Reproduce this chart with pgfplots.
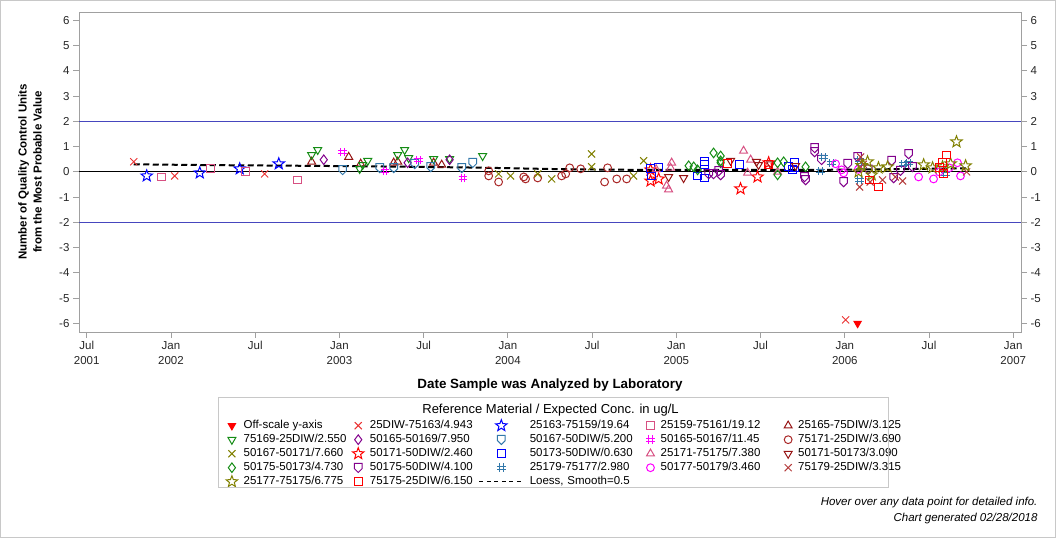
\documentclass[border=0pt]{standalone}
\usepackage{fontspec}
\setmainfont{Liberation Sans}
\usepackage{pgfplots}
\pgfplotsset{compat=1.18}

% colours
\definecolor{axgray}{RGB}{160,160,160}
\definecolor{framegray}{RGB}{200,200,200}
\definecolor{refblue}{RGB}{70,70,190}
\definecolor{cRed}{RGB}{255,0,0}
\definecolor{cRedX}{RGB}{235,50,50}
\definecolor{cBlue}{RGB}{0,0,255}
\definecolor{cRose}{RGB}{215,80,130}
\definecolor{cMaroon}{RGB}{150,20,20}
\definecolor{cGreen}{RGB}{20,140,20}
\definecolor{cPurple}{RGB}{130,0,140}
\definecolor{cSteel}{RGB}{50,120,170}
\definecolor{cMagenta}{RGB}{255,0,255}
\definecolor{cBrick}{RGB}{170,40,40}
\definecolor{cOlive}{RGB}{128,128,0}
\definecolor{cBrown}{RGB}{180,60,60}

% extra plot marks: hash, shield pointing down, outlined star
\pgfdeclareplotmark{hash}{%
  \pgfpathmoveto{\pgfqpoint{-0.4\pgfplotmarksize}{-\pgfplotmarksize}}%
  \pgfpathlineto{\pgfqpoint{-0.4\pgfplotmarksize}{\pgfplotmarksize}}%
  \pgfpathmoveto{\pgfqpoint{0.4\pgfplotmarksize}{-\pgfplotmarksize}}%
  \pgfpathlineto{\pgfqpoint{0.4\pgfplotmarksize}{\pgfplotmarksize}}%
  \pgfpathmoveto{\pgfqpoint{-\pgfplotmarksize}{-0.4\pgfplotmarksize}}%
  \pgfpathlineto{\pgfqpoint{\pgfplotmarksize}{-0.4\pgfplotmarksize}}%
  \pgfpathmoveto{\pgfqpoint{-\pgfplotmarksize}{0.4\pgfplotmarksize}}%
  \pgfpathlineto{\pgfqpoint{\pgfplotmarksize}{0.4\pgfplotmarksize}}%
  \pgfusepathqstroke}
\pgfdeclareplotmark{homedown}{%
  \pgfpathmoveto{\pgfqpoint{-0.8\pgfplotmarksize}{0.9\pgfplotmarksize}}%
  \pgfpathlineto{\pgfqpoint{0.8\pgfplotmarksize}{0.9\pgfplotmarksize}}%
  \pgfpathlineto{\pgfqpoint{0.8\pgfplotmarksize}{-0.2\pgfplotmarksize}}%
  \pgfpathlineto{\pgfqpoint{0pt}{-\pgfplotmarksize}}%
  \pgfpathlineto{\pgfqpoint{-0.8\pgfplotmarksize}{-0.2\pgfplotmarksize}}%
  \pgfpathclose\pgfusepathqstroke}
\pgfdeclareplotmark{ostar}{%
  \pgfpathmoveto{\pgfpointpolar{90}{\pgfplotmarksize}}%
  \pgfpathlineto{\pgfpointpolar{126}{0.42\pgfplotmarksize}}%
  \pgfpathlineto{\pgfpointpolar{162}{\pgfplotmarksize}}%
  \pgfpathlineto{\pgfpointpolar{198}{0.42\pgfplotmarksize}}%
  \pgfpathlineto{\pgfpointpolar{234}{\pgfplotmarksize}}%
  \pgfpathlineto{\pgfpointpolar{270}{0.42\pgfplotmarksize}}%
  \pgfpathlineto{\pgfpointpolar{306}{\pgfplotmarksize}}%
  \pgfpathlineto{\pgfpointpolar{342}{0.42\pgfplotmarksize}}%
  \pgfpathlineto{\pgfpointpolar{18}{\pgfplotmarksize}}%
  \pgfpathlineto{\pgfpointpolar{54}{0.42\pgfplotmarksize}}%
  \pgfpathclose\pgfusepathqstroke}

\pgfplotsset{
  mk/.style={only marks, line width=1pt,
    mark options={solid, line width=1pt},
    legend image code/.code={\draw[##1] plot coordinates {(0pt,0pt)};}},
  tdown/.style={mk, mark=triangle, mark size=4.6pt, mark options={solid, line width=1pt, rotate=180}},
  tup/.style={mk, mark=triangle, mark size=4.6pt},
  xm/.style={mk, mark=x, mark size=5pt},
  st/.style={mk, mark=ostar, mark size=6pt},
  sq/.style={mk, mark=square, mark size=3.9pt},
  ci/.style={mk, mark=o, mark size=3.9pt},
  di/.style={mk, mark=diamond, mark size=4.8pt},
  hd/.style={mk, mark=homedown, mark size=4.8pt},
  hs/.style={mk, mark=hash, mark size=4.2pt},
}
% widths of the third and fourth legend text columns
\tikzset{
  colC/.style={text width=110.5pt, align=left},
  colD/.style={text width=117.5pt, align=left},
}

\newcommand{\tickfont}{\fontsize{11.5}{15}\selectfont}

\begin{document}
\begin{tikzpicture}[x=1pt,y=1pt]
\useasboundingbox (0,0) rectangle (1056,538);
\draw[framegray, line width=1pt] (0.5,0.5) rectangle (1055.5,537.5);

\begin{axis}[
  at={(79pt,206pt)}, anchor=south west, scale only axis,
  width=942pt, height=320pt,
  xmin=2001.454, xmax=2007.046, ymin=-6.34, ymax=6.33,
  axis line style={draw=axgray, line width=0.8pt},
  tick style={draw=axgray, line width=0.8pt},
  tick align=outside, major tick length=6pt,
  xtick pos=bottom, ytick pos=left,
  xtick={2001.5,2002,2002.5,2003,2003.5,2004,2004.5,2005,2005.5,2006,2006.5,2007},
  xticklabels={{Jul\\2001},{Jan\\2002},{Jul},{Jan\\2003},{Jul},{Jan\\2004},{Jul},{Jan\\2005},{Jul},{Jan\\2006},{Jul},{Jan\\2007}},
  xticklabel style={align=center, font=\tickfont, text=black!85},
  ytick={-6,-5,-4,-3,-2,-1,0,1,2,3,4,5,6},
  yticklabels={-6,-5,-4,-3,-2,-1,0,1,2,3,4,5,6},
  yticklabel style={font=\tickfont, text=black!85},
  xlabel={Date Sample was Analyzed by Laboratory},
  xlabel style={at={(axis description cs:0.5,-0.1656)}, anchor=center,
    font=\bfseries\fontsize{13.4}{16}\selectfont},
  ylabel={Number of Quality Control Units\\from the Most Probable Value},
  ylabel style={at={(axis description cs:-0.052,0.5)}, anchor=center, align=center,
    font=\bfseries\fontsize{11.5}{15}\selectfont},
  legend columns=5,
  legend cell align=left,
  legend style={draw=none, fill=none, at={(axis description cs:0.5150,-0.2656)}, anchor=north,
    font=\fontsize{11.5}{13}\selectfont, row sep=1.0pt,
    nodes={inner sep=1pt, text height=8.5pt, text depth=2.5pt},
    /tikz/every even column/.append style={column sep=5pt},
    /tikz/every odd column/.append style={column sep=5pt}},
  clip=false,
]
% reference lines
\addplot[refblue, line width=0.9pt, forget plot] coordinates {(2001.454,2) (2007.046,2)};
\addplot[refblue, line width=0.9pt, forget plot] coordinates {(2001.454,-2) (2007.046,-2)};
\addplot[black, line width=1.2pt, forget plot] coordinates {(2001.454,0) (2007.046,0)};

% Off-scale y-axis
\addplot[mk, cRed, mark=triangle*, mark size=4.2pt, mark options={solid, rotate=180, fill=cRed}]
  coordinates {(2006.076,-6.0)};
\addlegendentry{Off-scale y-axis}
% 25DIW-75163/4.943
\addplot[xm, cRedX] coordinates {(2001.779,0.40) (2002.022,-0.16) (2002.556,-0.08) (2006.005,-5.86)};
\addlegendentry{25DIW-75163/4.943}
% 25163-75159/19.64
\addplot[st, cBlue] coordinates {(2001.856,-0.16) (2002.171,-0.04) (2002.408,0.12) (2002.640,0.32)};
\addlegendentry[colC]{25163-75159/19.64}
% 25159-75161/19.12
\addplot[sq, cRose] coordinates {(2001.945,-0.20) (2002.236,0.12) (2002.444,0.00) (2002.752,-0.32)};
\addlegendentry[colD]{25159-75161/19.12}
% 25165-75DIW/3.125
\addplot[tup, cMaroon] coordinates {(2002.835,0.40) (2003.055,0.59) (2003.126,0.32) (2003.322,0.36)
  (2003.346,0.40) (2003.559,0.36) (2003.607,0.28)};
\addlegendentry{25165-75DIW/3.125}
% 75169-25DIW/2.550
\addplot[tdown, cGreen] coordinates {(2002.835,0.67) (2002.871,0.87) (2003.120,0.12) (2003.138,0.28)
  (2003.168,0.44) (2003.346,0.67) (2003.387,0.87) (2003.411,0.55) (2003.559,0.51) (2003.654,0.51)
  (2003.850,0.63)};
\addlegendentry{75169-25DIW/2.550}
% 50165-50169/7.950
\addplot[di, cPurple] coordinates {(2002.907,0.48) (2003.405,0.36) (2003.654,0.48)};
\addlegendentry{50165-50169/7.950}
% 50167-50DIW/5.200
\addplot[hd, cSteel] coordinates {(2003.019,0.08) (2003.239,0.16) (2003.322,0.16) (2003.447,0.32)
  (2003.542,0.20) (2003.726,0.16) (2003.791,0.36)};
\addlegendentry[colC]{50167-50DIW/5.200}
% 50165-50167/11.45
\addplot[hs, cMagenta] coordinates {(2003.019,0.79) (2003.269,0.04) (2003.470,0.48) (2003.732,-0.24)};
\addlegendentry[colD]{50165-50167/11.45}
% 75171-25DIW/3.690
\addplot[ci, cBrick] coordinates {(2003.886,0.04) (2003.886,-0.16) (2003.945,-0.40) (2004.094,-0.20)
  (2004.105,-0.28) (2004.177,-0.24) (2004.319,-0.16) (2004.343,-0.08) (2004.367,0.16) (2004.432,0.12)
  (2004.574,-0.40) (2004.592,0.16) (2004.646,-0.28) (2004.705,-0.28)};
\addlegendentry{75171-25DIW/3.690}
% 50167-50171/7.660
\addplot[xm, cOlive] coordinates {(2003.945,-0.08) (2004.016,-0.16) (2004.177,-0.08) (2004.260,-0.28)
  (2004.497,0.71) (2004.497,0.20) (2004.746,-0.16) (2004.806,0.44)};
\addlegendentry{50167-50171/7.660}
% 50171-50DIW/2.460
\addplot[st, cRed] coordinates {(2004.847,0.08) (2004.847,-0.36) (2004.895,-0.28) (2005.381,-0.67)
  (2005.482,-0.20) (2005.548,0.36)};
\addlegendentry{50171-50DIW/2.460}
% 50173-50DIW/0.630
\addplot[sq, cBlue] coordinates {(2004.847,0.12) (2004.853,-0.16) (2004.895,0.16) (2005.126,-0.16)
  (2005.168,0.40) (2005.168,0.28) (2005.168,-0.24) (2005.376,0.28) (2005.666,0.20) (2005.702,0.36)
  (2005.702,0.16) (2005.690,0.10)};
\addlegendentry[colC]{50173-50DIW/0.630}
% 25171-75175/7.380
\addplot[tup, cRose] coordinates {(2004.966,0.16) (2004.972,0.36) (2004.942,-0.55) (2004.954,-0.70)
  (2005.399,0.83) (2005.423,-0.04) (2005.441,0.48) (2005.601,0.00) (2004.880,0.10)};
\addlegendentry[colD]{25171-75175/7.380}
% 50171-50173/3.090
\addplot[tdown, cMaroon] coordinates {(2004.954,-0.20) (2005.043,-0.24) (2005.322,0.44) (2005.476,0.40)
  (2005.488,0.28) (2005.708,0.24) (2005.560,0.30)};
\addlegendentry{50171-50173/3.090}
% 50175-50173/4.730
\addplot[di, cGreen] coordinates {(2005.073,0.24) (2005.103,0.20) (2005.126,0.08) (2005.221,0.75)
  (2005.263,0.63) (2005.263,0.44) (2005.263,0.36) (2005.601,0.36) (2005.601,-0.12) (2005.637,0.40)
  (2005.767,0.20)};
\addlegendentry{50175-50173/4.730}
% 50175-50DIW/4.100
\addplot[hd, cPurple] coordinates {(2005.192,-0.08) (2005.221,-0.08) (2005.251,0.04) (2005.263,-0.12)
  (2005.761,-0.20) (2005.767,-0.32) (2005.821,0.95) (2005.821,0.79) (2005.862,0.48) (2005.993,-0.40)
  (2006.017,0.32) (2006.076,0.59) (2006.278,0.44) (2006.290,-0.24) (2006.379,0.71) (2006.402,0.20)
  (2006.140,0.10) (2006.330,0.05)};
\addlegendentry{50175-50DIW/4.100}
% 25179-75177/2.980
\addplot[hs, cSteel] coordinates {(2005.856,0.04) (2005.874,0.59) (2005.922,0.36) (2006.088,0.48)
  (2006.088,-0.32) (2006.349,0.32) (2006.379,0.36) (2006.598,-0.08) (2006.090,0.20)};
\addlegendentry[colC]{25179-75177/2.980}
% 50177-50179/3.460
\addplot[ci, cMagenta] coordinates {(2005.945,0.32) (2005.981,0.08) (2005.993,-0.04) (2006.438,-0.20)
  (2006.527,-0.28) (2006.669,0.36) (2006.687,-0.16) (2006.080,0.10) (2006.560,0.00) (2006.620,0.16)};
\addlegendentry[colD]{50177-50179/3.460}
% 75179-25DIW/3.315
\addplot[xm, cBrown] coordinates {(2006.088,-0.60) (2006.094,0.59) (2006.224,-0.32) (2006.343,-0.36)
  (2006.723,0.00) (2006.150,-0.40) (2006.110,0.30) (2006.300,-0.20)};
\addlegendentry{75179-25DIW/3.315}
% 25177-75175/6.775
\addplot[st, cOlive] coordinates {(2006.082,0.00) (2006.135,0.40) (2006.200,0.16) (2006.254,0.20)
  (2006.468,0.28) (2006.521,0.16) (2006.628,0.32) (2006.663,1.19) (2006.717,0.24) (2006.100,0.25)
  (2006.160,-0.12) (2006.580,0.20)};
\addlegendentry{25177-75175/6.775}
% 75175-25DIW/6.150
\addplot[sq, cRed] coordinates {(2005.304,0.32) (2005.548,0.28) (2006.147,-0.32) (2006.200,-0.60)
  (2006.563,0.16) (2006.580,0.36) (2006.586,-0.08) (2006.604,0.67)};
\addlegendentry{75175-25DIW/6.150}
% loess fit
\addplot[black, line width=2pt, dash pattern=on 6pt off 3.5pt, smooth,
  legend image code/.code={\draw[black, line width=0.9pt, dash pattern=on 4pt off 3.5pt] (-22pt,0pt) -- (22pt,0pt);}]
  coordinates {(2001.779,0.30) (2002.2,0.27) (2002.8,0.24) (2003.3,0.21) (2003.8,0.17) (2004.3,0.11)
  (2004.8,0.08) (2005.3,0.08) (2005.8,0.08) (2006.2,0.10) (2006.723,0.14)};
\addlegendentry[colC]{Loess, Smooth=0.5}
\end{axis}

% right-hand tick labels
\begin{axis}[
  at={(79pt,206pt)}, anchor=south west, scale only axis,
  width=942pt, height=320pt,
  xmin=2001.454, xmax=2007.046, ymin=-6.34, ymax=6.33,
  axis x line=none, axis y line*=right,
  axis line style={draw=axgray, line width=0.8pt},
  tick style={draw=axgray, line width=0.8pt},
  tick align=outside, major tick length=6pt,
  ytick={-6,-5,-4,-3,-2,-1,0,1,2,3,4,5,6},
  yticklabels={-6,-5,-4,-3,-2,-1,0,1,2,3,4,5,6},
  yticklabel style={font=\tickfont, text=black!85},
]
\end{axis}

% legend frame, title and notes
\draw[framegray, line width=1pt] (218,51) rectangle (888,140);
\node[font=\fontsize{13}{15}\selectfont] at (550.5,128) {Reference Material / Expected Conc. in ug/L};
\node[anchor=east, font=\itshape\fontsize{11.5}{14}\selectfont] at (1041,35) {Hover over any data point for detailed info.};
\node[anchor=east, font=\itshape\fontsize{11.5}{14}\selectfont] at (1041,19) {Chart generated 02/28/2018};
\end{tikzpicture}
\end{document}
